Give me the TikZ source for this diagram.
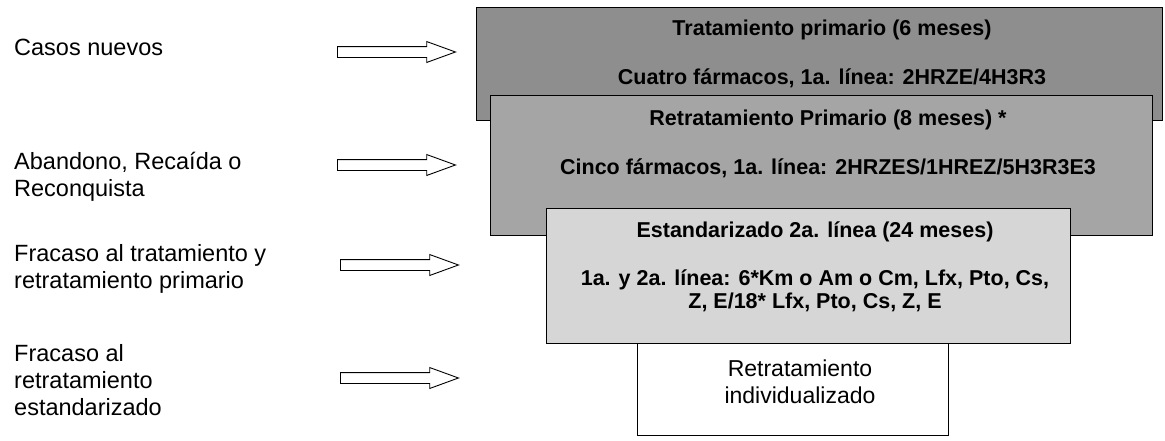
\documentclass[tikz,border=0pt]{standalone}
\usepackage{fontspec}
\setmainfont{Liberation Sans}
\usepackage{xcolor}
\usepackage{tikz}
\usetikzlibrary{shapes.arrows}
\definecolor{grisA}{HTML}{8E8E8E}
\definecolor{grisB}{HTML}{A5A5A5}
\definecolor{grisC}{HTML}{D6D6D6}
\tikzset{caja/.style={draw=black,line width=1.3pt,rectangle,inner sep=0pt,anchor=north west}}
\tikzset{titulo/.style={font=\fontsize{21.5}{23}\selectfont\bfseries,align=center,inner sep=0pt}}
\tikzset{causa/.style={font=\fontsize{23.5}{27}\selectfont,align=left,anchor=west,inner sep=0pt}}
\tikzset{flecha/.style={single arrow,draw=black,fill=white,line width=0.9pt,anchor=west,
    inner sep=5pt,minimum height=118pt,single arrow head extend=5pt,single arrow tip angle=40}}

\begin{document}
\begin{tikzpicture}[x=1pt, y=-1pt]
        \useasboundingbox (0,0) rectangle (1165,440);
        % cajas
        \node[caja,fill=grisA,minimum width=686pt,minimum height=113pt] (c1) at (476,7) {};
        \node[caja,fill=grisB,minimum width=662pt,minimum height=140pt] (c2) at (490,95) {};
        \node[caja,fill=grisC,minimum width=524pt,minimum height=135pt] (c3) at (546,208) {};
        \node[caja,fill=white,minimum width=311pt,minimum height=92pt] (c4) at (637,343) {};
        \node[titulo] (t1) at (832,30) {Tratamiento primario (6 meses)};
        \node[titulo] (d1) at (832,78) {Cuatro fármacos, 1a. línea: 2HRZE/4H3R3};
        \node[titulo] (t2) at (828,120) {Retratamiento Primario (8 meses) *};
        \node[titulo] (d2) at (828,168) {Cinco fármacos, 1a. línea: 2HRZES/1HREZ/5H3R3E3};
        \node[titulo] (t3) at (815,232) {Estandarizado 2a. línea (24 meses)};
        \node[titulo] (d3) at (815,291) {1a. y 2a. línea: 6*Km o Am o Cm, Lfx, Pto, Cs,\\ Z, E/18* Lfx, Pto, Cs, Z, E};
        \node[titulo,font=\fontsize{23}{27}\selectfont] (t4) at (800,382) {Retratamiento\\ individualizado};
        % causas
        \node[causa] (k1) at (14,47) {Casos nuevos};
        \node[causa] (k2) at (14,177) {Abandono, Recaída o\\ Reconquista};
        \node[causa] (k3) at (14,269) {Fracaso al tratamiento y\\ retratamiento primario};
        \node[causa] (k4) at (14,380) {Fracaso al\\ retratamiento\\ estandarizado};
        % flechas
        \node[flecha] (f1) at (337,52) {};
        \node[flecha] (f2) at (337,165) {};
        \node[flecha] (f3) at (340,265) {};
        \node[flecha] (f4) at (340,378) {};
\end{tikzpicture}
\end{document}
